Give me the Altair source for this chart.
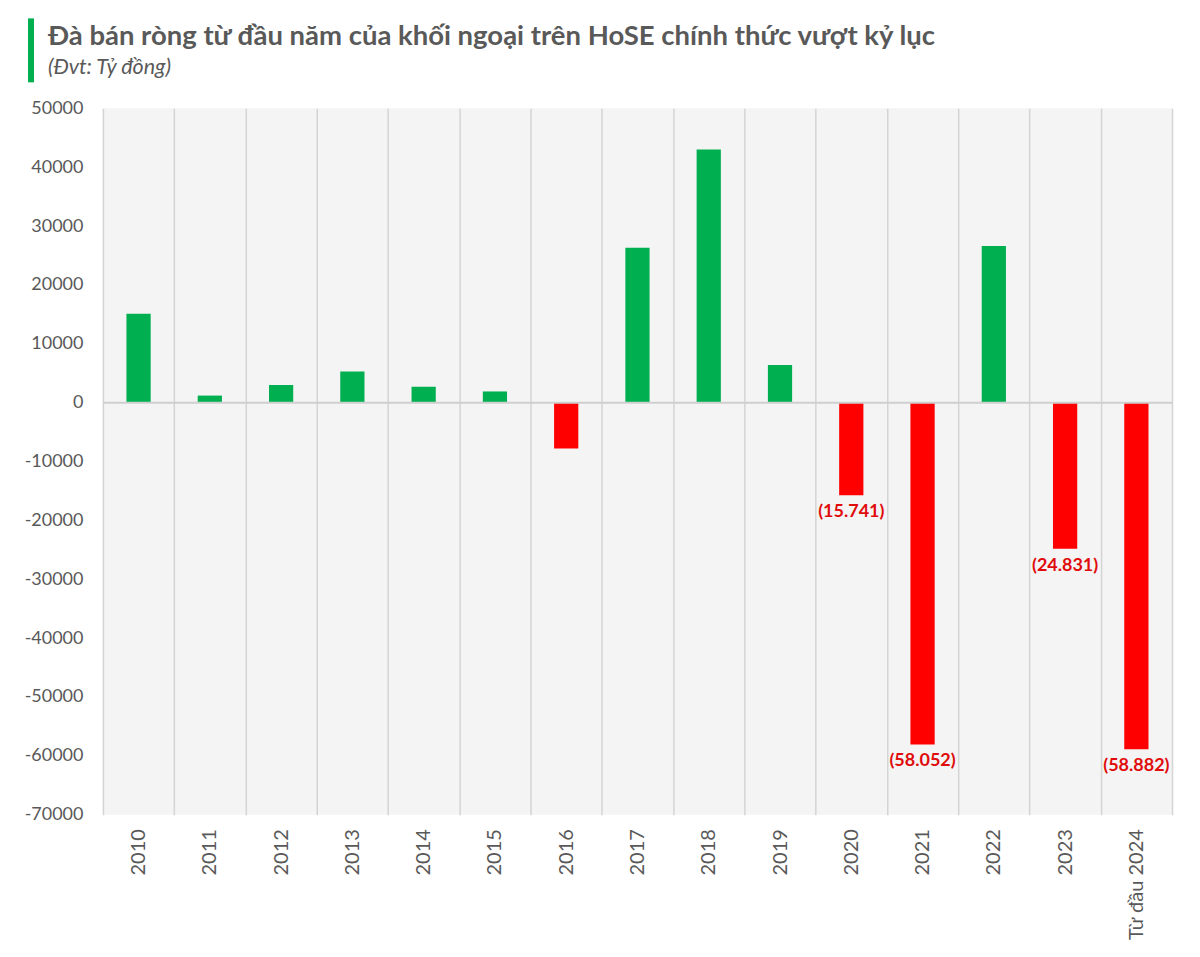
import altair as alt
import pandas as pd

years = ["2010", "2011", "2012", "2013", "2014", "2015", "2016", "2017",
         "2018", "2019", "2020", "2021", "2022", "2023", "Từ đầu 2024"]
values = [15100, 1200, 3000, 5300, 2700, 1900, -7800, 26300,
          43000, 6400, -15741, -58052, 26600, -24831, -58882]
labels = ["", "", "", "", "", "", "", "", "", "",
          "(15.741)", "(58.052)", "", "(24.831)", "(58.882)"]
title_text = "Đà bán ròng từ đầu năm của khối ngoại trên HoSE chính thức vượt kỷ lục"
subtitle_text = "(Đvt: Tỷ đồng)"

df = pd.DataFrame({"year": years, "value": values, "label": labels})
df["sign"] = ["pos" if v >= 0 else "neg" for v in values]

FONT = "Lato"
GRAY = "#595959"

x_enc = alt.X("year:N", sort=years, title=None,
              scale=alt.Scale(paddingInner=0, paddingOuter=0),
              axis=alt.Axis(labelAngle=-90, labelFontSize=20, labelColor=GRAY,
                            labelFont=FONT, labelPadding=14, ticks=False,
                            domain=False, grid=True, gridColor="#d4d4d4",
                            gridWidth=1.5, tickBand="extent"))
y_scale = alt.Scale(domain=[-70000, 50000], nice=False)

base = alt.Chart(df)

bars = base.mark_bar(width=alt.RelativeBandSize(0.34)).encode(
    x=x_enc,
    y=alt.Y("value:Q", scale=y_scale, title=None,
            axis=alt.Axis(values=list(range(-70000, 50001, 10000)), format="d",
                          labelExpr="replace(datum.label, '\u2212', '-')",
                          labelFontSize=18, labelColor=GRAY, labelFont=FONT,
                          labelPadding=20, ticks=False, domain=False, grid=False)),
    color=alt.Color("sign:N", scale=alt.Scale(domain=["pos", "neg"],
                                              range=["#00b050", "#ff0000"]),
                    legend=None),
)

zero = alt.Chart(pd.DataFrame({"z": [0]})).mark_rule(
    color="#cfcfcf", strokeWidth=2).encode(y=alt.Y("z:Q", scale=y_scale))

text = base.mark_text(baseline="top", dy=8, fontSize=18, fontWeight="bold",
                      color="#e00b0b", font=FONT).encode(
    x=alt.X("year:N", sort=years),
    y=alt.Y("value:Q", scale=y_scale),
    text="label:N",
)

accent = alt.Chart(pd.DataFrame({"a": [0]})).mark_rule(
    color="#00b050", strokeWidth=6).encode(
    x=alt.value(-72), y=alt.value(-90), y2=alt.value(-26))

title = alt.Chart(pd.DataFrame({"t": [title_text]})).mark_text(
    align="left", baseline="alphabetic", font=FONT, fontSize=27.5,
    fontWeight="bold", color=GRAY).encode(
    x=alt.value(-55), y=alt.value(-63), text="t:N")

subtitle = alt.Chart(pd.DataFrame({"t": [subtitle_text]})).mark_text(
    align="left", baseline="alphabetic", font=FONT, fontSize=21.5,
    fontStyle="italic", color=GRAY).encode(
    x=alt.value(-55), y=alt.value(-34), text="t:N")

chart = alt.layer(bars, zero, text, accent, title, subtitle).properties(
    width=1070, height=707,
    autosize=alt.AutoSizeParams(type="none"),
    padding={"left": 95, "top": 100, "right": 20, "bottom": 130},
).configure(background="white").configure_view(fill="#f4f4f4", stroke=None)

chart.save("out.html", embed_options={"renderer": "svg", "actions": False})
